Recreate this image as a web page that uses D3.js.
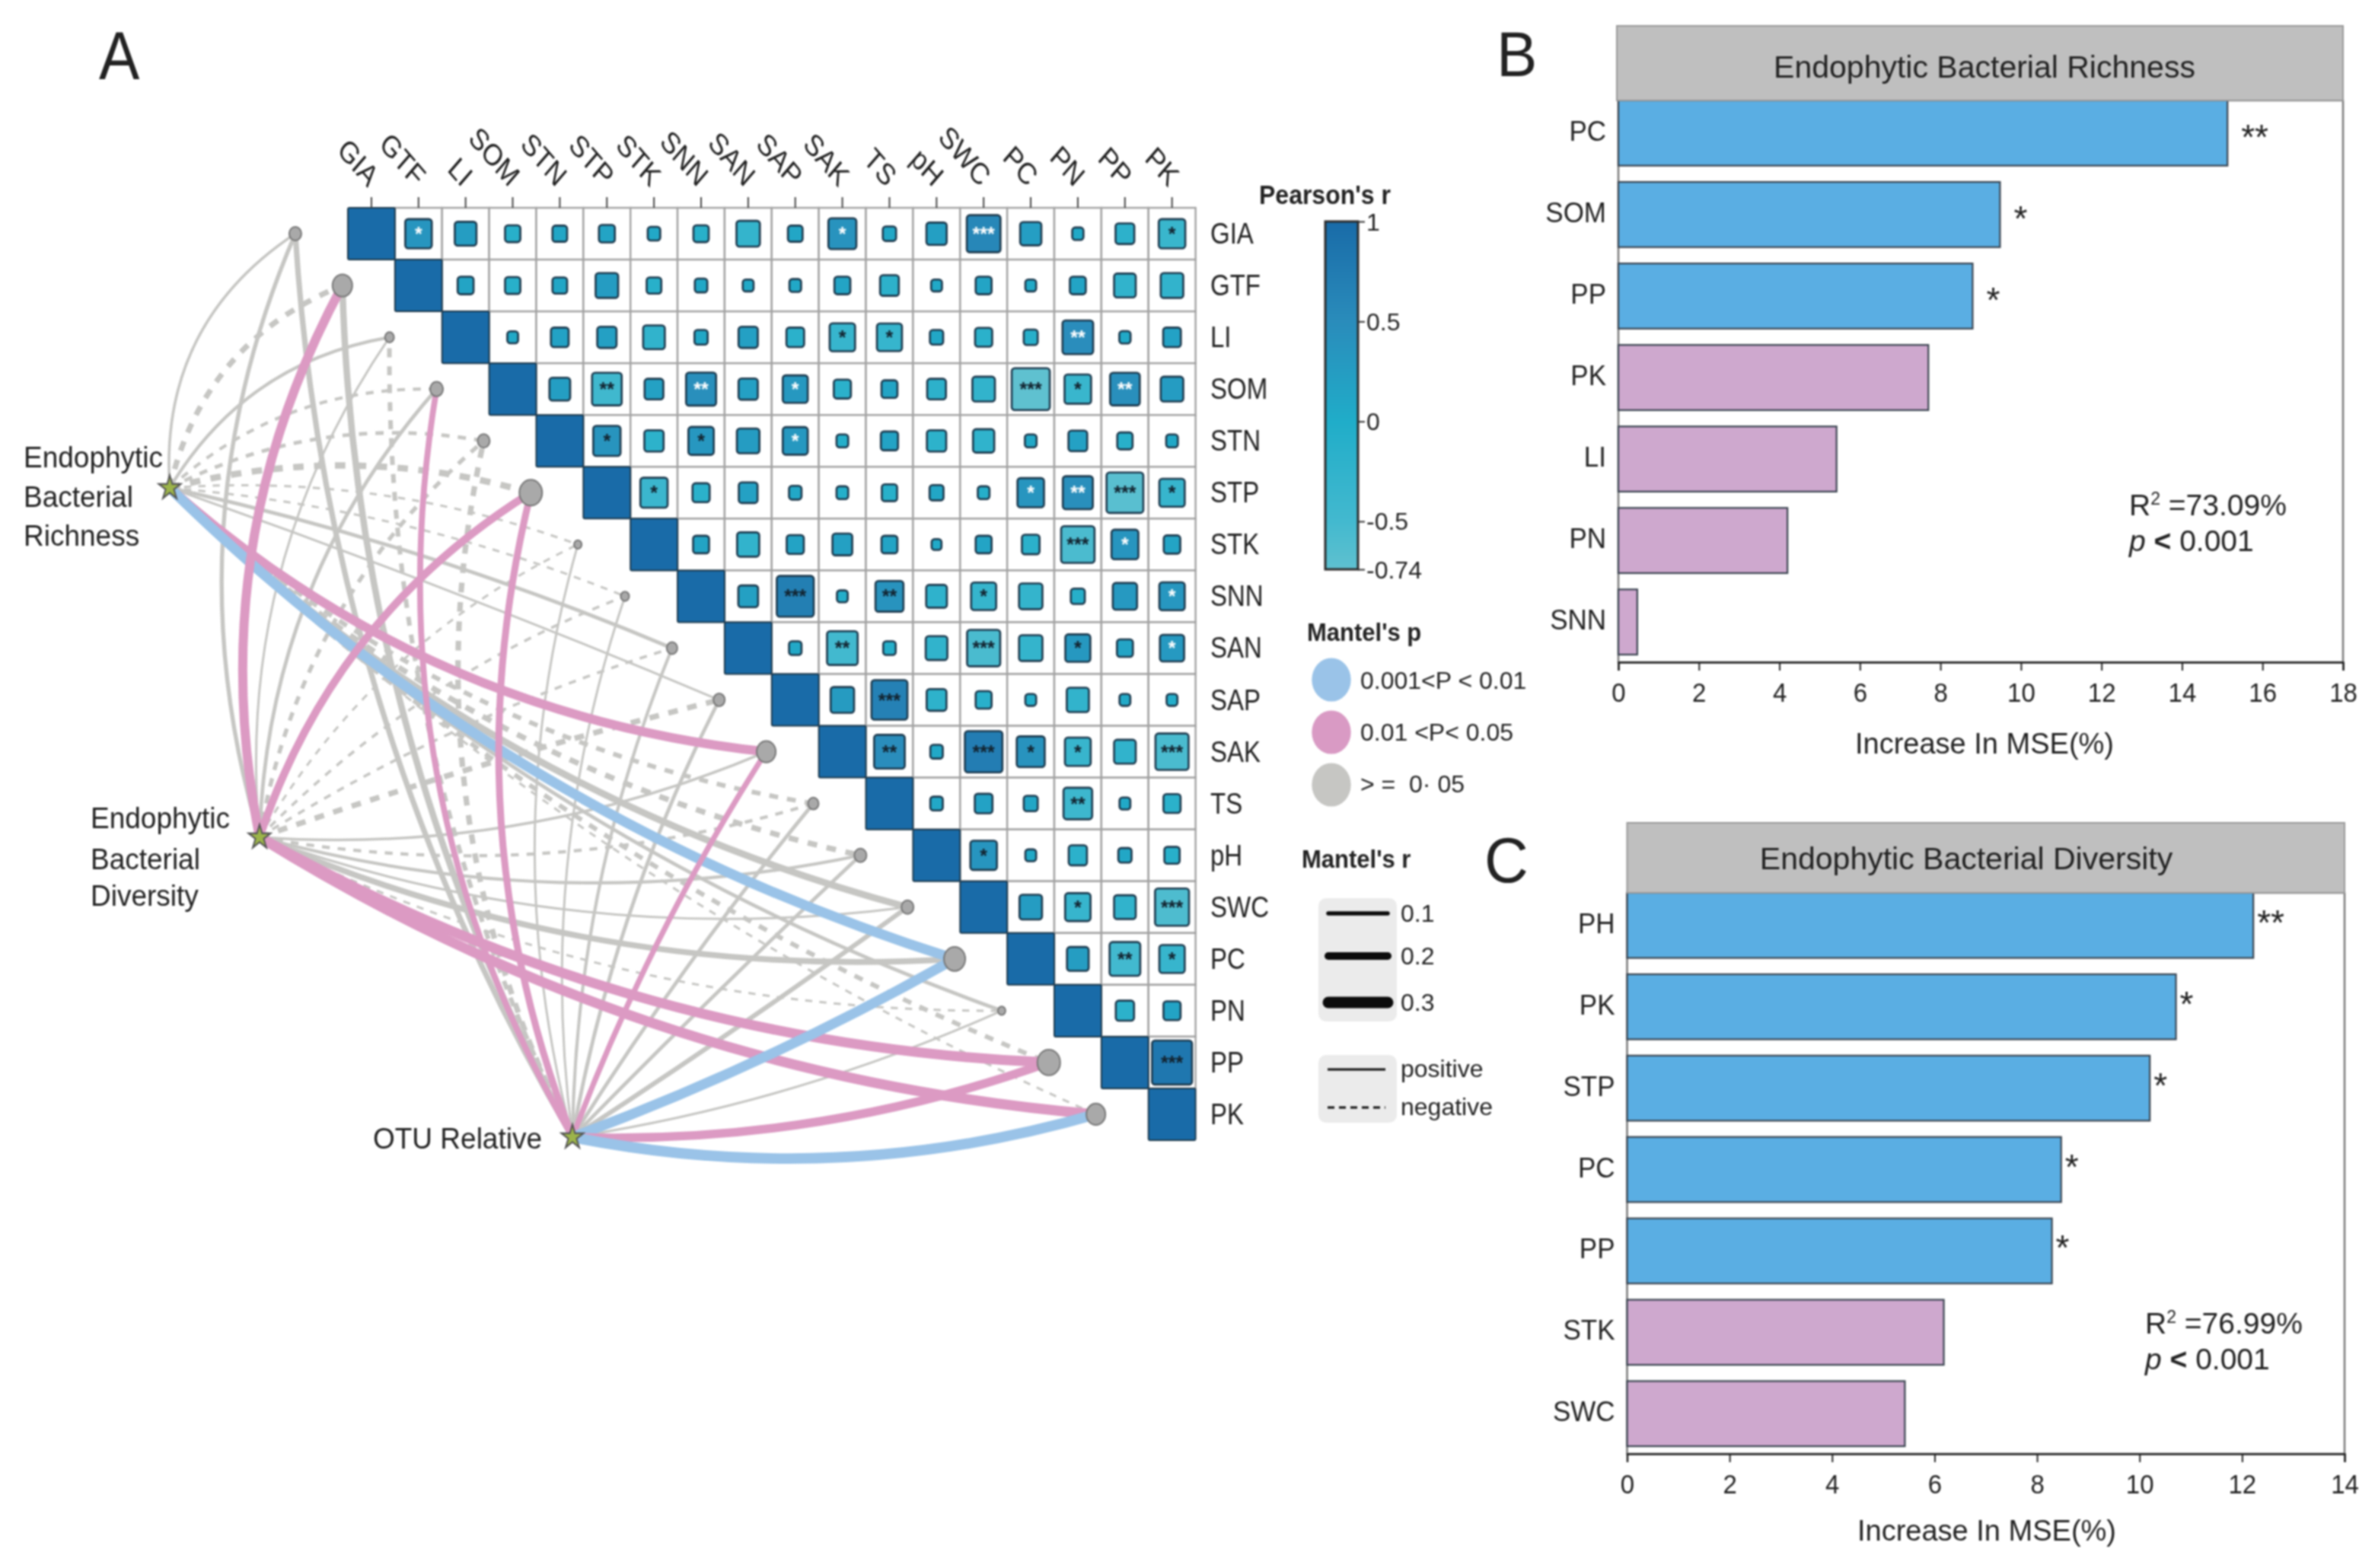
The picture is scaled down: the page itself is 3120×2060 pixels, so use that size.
<!DOCTYPE html>
<html><head><meta charset="utf-8">
<script src="https://cdn.jsdelivr.net/npm/d3@7/dist/d3.min.js"></script>
<style>
html,body{margin:0;padding:0;background:#fff}
svg{display:block;filter:blur(0.9px)}
text{font-family:"Liberation Sans",Arial,sans-serif;fill:#222}
</style></head><body>
<svg id="chart" width="3120" height="2060" viewBox="0 0 3120 2060"></svg>
<script>
const variables=["GIA","GTF","LI","SOM","STN","STP","STK","SNN","SAN","SAP","SAK","TS","pH","SWC","PC","PN","PP","PK"];
// Pearson r, upper triangle, row by row (diagonal = 1 is implied)
const corrRows=[
[.36,.24,-.12,.11,.13,.08,-.12,-.28,.11,.40,.09,.21,.58,.23,.065,-.18,-.36],
[.13,-.12,.11,.26,-.11,.08,.06,.07,.13,-.18,.06,.13,.06,.13,-.24,-.26],
[.06,.16,.19,-.24,.09,.19,-.16,-.33,-.32,.09,-.15,-.10,.48,.065,.16],
[.22,-.45,.18,.46,.19,.32,-.15,.13,-.18,-.26,-.74,-.36,.45,.26],
[.38,-.19,.33,.26,.32,-.07,.15,-.19,-.23,.07,.18,-.12,.07],
[-.38,-.15,.18,.08,-.07,-.12,.10,-.07,.36,.46,-.69,-.33],
[.13,-.25,.15,.20,.13,.05,.13,-.16,-.57,.37,.14],
[.20,.70,-.06,.40,-.22,-.32,-.28,-.10,.30,.33],
[.08,-.48,-.08,-.24,-.56,-.28,.32,.13,.30],
[.28,.66,-.20,-.13,-.06,-.25,.06,-.06],
[.48,.08,.72,.40,-.34,-.24,-.56],
[.08,.16,.10,-.42,.06,-.15],
[.36,.06,-.17,.09,-.12],
[.26,-.33,-.24,-.59],
[.24,-.48,-.33],
[-.17,.15],
[.82]];
// [row, column, number of stars, star colour: w = white, d = dark]
const sigCells=[
["GIA","GTF",1,"w"],["GIA","SAK",1,"w"],["GIA","SWC",3,"w"],["GIA","PK",1,"d"],
["LI","SAK",1,"d"],["LI","TS",1,"d"],["LI","PN",2,"w"],
["SOM","STP",2,"d"],["SOM","SNN",2,"w"],["SOM","SAP",1,"w"],["SOM","PC",3,"d"],["SOM","PN",1,"d"],["SOM","PP",2,"w"],
["STN","STP",1,"d"],["STN","SNN",1,"d"],["STN","SAP",1,"w"],
["STP","STK",1,"d"],["STP","PC",1,"w"],["STP","PN",2,"w"],["STP","PP",3,"d"],["STP","PK",1,"d"],
["STK","PN",3,"d"],["STK","PP",1,"w"],
["SNN","SAP",3,"d"],["SNN","TS",2,"d"],["SNN","SWC",1,"d"],["SNN","PK",1,"w"],
["SAN","SAK",2,"d"],["SAN","SWC",3,"d"],["SAN","PN",1,"d"],["SAN","PK",1,"w"],
["SAP","TS",3,"d"],
["SAK","TS",2,"d"],["SAK","SWC",3,"d"],["SAK","PC",1,"d"],["SAK","PN",1,"d"],["SAK","PK",3,"d"],
["TS","PN",2,"d"],["pH","SWC",1,"d"],["SWC","PN",1,"d"],["SWC","PK",3,"d"],
["PC","PP",2,"d"],["PC","PK",1,"d"],["PP","PK",3,"d"]];
// Mantel r (negative = dashed) and p class per environmental variable
const richnessR=[.06,-.12,.07,-.07,-.08,-.14,-.05,-.05,.08,.05,.20,-.10,-.12,.15,.22,.08,-.10,-.05];
const richnessP=["g","g","g","g","g","g","g","g","g","g","p","g","g","g","b","g","g","g"];
const diversityR=[.09,.20,.05,.08,-.09,.17,-.05,-.06,-.06,-.12,.06,-.07,.07,.05,.13,-.05,.22,.22];
const diversityP=["g","p","g","g","g","p","g","g","g","g","g","g","g","g","g","g","p","p"];
const otuR=[.12,.14,-.10,.13,-.12,.15,.05,.05,.07,.08,.12,.08,.08,.10,.22,.05,.19,.23];
const otuP=["g","g","g","p","g","p","g","g","g","g","p","g","g","g","b","g","p","b"];
const nodeSize=[8,13,6,8.5,8,15,5,5.5,7,7.5,12.5,7,8,8,14,5,15,12.5];
// Random forest panels
const richCats=["PC","SOM","PP","PK","LI","PN","SNN"];
const richVals=[15.13,9.48,8.8,7.7,5.42,4.2,0.47];
const richStars=["**","*","*","","","",""];
const richSig=[1,1,1,0,0,0,0];
const divCats=["PH","PK","STP","PC","PP","STK","SWC"];
const divVals=[12.22,10.71,10.2,8.47,8.29,6.18,5.42];
const divStars=["**","*","*","*","*","",""];
const divSig=[1,1,1,1,1,0,0];
const colorTicks=[1,.5,0,-.5,-.74];
const mantelSizes=[.1,.2,.3];

const svg=d3.select("#chart");
function T(g,x,y,s,size,o={}){
  return g.append("text").attr("transform",`translate(${x},${y}) scale(1,${o.sy||1})`+(o.rot?` rotate(${o.rot})`:""))
    .attr("font-size",size).attr("text-anchor",o.anchor||"start").attr("font-weight",o.bold?"bold":null)
    .attr("font-style",o.italic?"italic":null).style("fill",o.fill||null).text(s);
}
/* ---------- A: heat map ---------- */
const A=svg.append("g");
const x=d3.scaleBand(variables,[457,1570.6]);
const y=d3.scaleBand(variables,[273,1498]);
const heat=d3.scaleLinear([-.74,-.5,0,.5,1],["#5fc1d0","#43b9cf","#20adc9","#2a8cbb","#196ba8"]);
const pColor={b:"#9ac3e8",p:"#dc9ac3",g:"#c6c6c3"};
const width=d3.scaleLinear([0,.3],[0,15]);
const linkWidth=d3.scaleLinear([0,.3],[0,18]);
const cells=[];
variables.forEach((a,i)=>{
  cells.push({a,b:a,r:1});
  corrRows[i]&&corrRows[i].forEach((r,k)=>cells.push({a,b:variables[i+1+k],r}));
});
// grid
A.append("g").selectAll("rect").data(cells.filter(d=>d.a!==d.b)).join("rect")
  .attr("x",d=>x(d.b)).attr("y",d=>y(d.a)).attr("width",x.bandwidth()).attr("height",y.bandwidth())
  .attr("fill","#fff").attr("stroke","#a2a2a2").attr("stroke-width",2.4);
const f=r=>r===1?1:.94*Math.sqrt(Math.abs(r));
A.append("g").selectAll("rect").data(cells).join("rect")
  .attr("x",d=>x(d.b)+x.bandwidth()*(1-f(d.r))/2).attr("y",d=>y(d.a)+y.bandwidth()*(1-f(d.r))/2)
  .attr("width",d=>x.bandwidth()*f(d.r)).attr("height",d=>y.bandwidth()*f(d.r))
  .attr("rx",d=>d.r===1?2:4).attr("fill",d=>heat(d.r)).attr("stroke","#1d3a4e").attr("stroke-width",d=>d.r===1?2:2.6);
const cx=v=>x(v)+x.bandwidth()/2, cy=v=>y(v)+y.bandwidth()/2;
A.append("g").selectAll("text").data(sigCells).join("text")
  .attr("x",d=>cx(d[1])).attr("y",d=>cy(d[0])+9).attr("text-anchor","middle").attr("font-size",25).attr("font-weight","bold")
  .style("fill",d=>d[3]==="w"?"#fff":"#12222e").text(d=>"*".repeat(d[2]));
// axis labels
variables.forEach(v=>{
  A.append("line").attr("x1",cx(v)).attr("x2",cx(v)).attr("y1",259).attr("y2",273).attr("stroke","#444").attr("stroke-width",2);
  T(A,cx(v)-5,247,v,34,{anchor:"end",rot:45,sy:1.16});
  T(A,1590,cy(v)+13,v,33,{sy:1.16});
});
/* ---------- A: Mantel links ---------- */
const offsetX=100;
const nodeX=v=>cx(v)-offsetX, nodeY=cy;
const sources=[
 {name:"rich",x:223,y:641,r:richnessR,p:richnessP,bend:i=>i<9.5?.145*(9.5-i)/9.5:-.08+(i-10)*.005},
 {name:"div",x:341,y:1100,r:diversityR,p:diversityP,bend:i=>i<9.5?Math.min(.09,(9.5-i)*.022):-.06},
 {name:"otu",x:752,y:1494,r:otuR,p:otuP,bend:i=>i<3?.06:i<12.5?Math.min(.09,(12.5-i)*.0105):(12.5-i)*.0135}];
const links=[];
sources.forEach(s=>variables.forEach((v,i)=>links.push({s,v,i,r:s.r[i],p:s.p[i]})));
const linkPath=d=>{
  const tx=nodeX(d.v),ty=nodeY(d.v),dx=tx-d.s.x,dy=ty-d.s.y,b=d.s.bend(d.i);
  const p=d3.path();p.moveTo(d.s.x,d.s.y);
  p.quadraticCurveTo((d.s.x+tx)/2+dy*2*b,(d.s.y+ty)/2-dx*2*b,tx,ty);
  return p.toString();
};
const order=d=>d.p==="g"?0:1;
A.append("g").selectAll("path").data(links.slice().sort((a,b)=>order(a)-order(b))).join("path")
  .attr("d",linkPath).attr("fill","none").attr("stroke",d=>pColor[d.p])
  .attr("stroke-width",d=>linkWidth(Math.abs(d.r)))
  .attr("stroke-dasharray",d=>d.r<0?`${7+linkWidth(-d.r)*.8} ${7+linkWidth(-d.r)*.8}`:null);
A.append("g").selectAll("ellipse").data(variables).join("ellipse")
  .attr("cx",nodeX).attr("cy",nodeY).attr("rx",(d,i)=>nodeSize[i]).attr("ry",(d,i)=>nodeSize[i]*1.13)
  .attr("fill","#a9a9a9").attr("stroke","#777").attr("stroke-width",2);
const star=d3.symbol(d3.symbolStar,260);
A.append("g").selectAll("path").data(sources).join("path").attr("d",star)
  .attr("transform",d=>`translate(${d.x},${d.y}) scale(1,1.1)`).attr("fill","#9cb44a").attr("stroke","#555").attr("stroke-width",2);
[["Endophytic",31,614],["Bacterial",31,666],["Richness",31,717],
 ["Endophytic",119,1088],["Bacterial",119,1142],["Diversity",119,1190],["OTU Relative",490,1509]]
 .forEach(d=>T(A,d[1],d[2],d[0],37,{sy:1.04}));
T(A,130,104,"A",80,{sy:1.1});
/* ---------- legends ---------- */
T(svg,1654,268,"Pearson's r",32,{bold:true,sy:1.1});
const grad=svg.append("defs").append("linearGradient").attr("id","cb").attr("x1",0).attr("x2",0).attr("y1",1).attr("y2",0);
heat.domain().forEach(v=>grad.append("stop").attr("offset",(v+.74)/1.74).attr("stop-color",heat(v)));
svg.append("rect").attr("x",1741).attr("y",291).attr("width",43).attr("height",457).attr("fill","url(#cb)").attr("stroke","#2c2c2c").attr("stroke-width",3);
const cbY=d3.scaleLinear([-.74,1],[748,291]);
const cbAxis=svg.append("g").attr("transform","translate(1784,0)")
  .call(d3.axisRight(cbY).tickValues(colorTicks).tickSize(9).tickPadding(2).tickFormat(d=>String(d)));
cbAxis.select(".domain").remove();
cbAxis.selectAll("line").attr("stroke","#333").attr("stroke-width",2);
cbAxis.selectAll("text").attr("font-size",32).attr("font-family",null).attr("dy",null).attr("dominant-baseline","central");
T(svg,1717,842,"Mantel's p",31,{bold:true,sy:1.1});
[["0.001<P < 0.01","b",905,893],["0.01 <P< 0.05","p",973,962],["> =\u00a0\u00a00\u00b7\u00a005","g",1041,1031]].forEach(d=>{
  svg.append("ellipse").attr("cx",1749).attr("cy",d[3]).attr("rx",25.7).attr("ry",28.6).attr("fill",d[1]==="p"?"#d99ac4":d[1]==="b"?"#9ac3e8":"#c6c6c3");
  T(svg,1787,d[2],d[0],32,{});
});
T(svg,1710,1140,"Mantel's r",31,{bold:true,sy:1.1});
svg.append("rect").attr("x",1732).attr("y",1180).attr("width",103).attr("height",162).attr("rx",10).attr("fill","#ebebeb");
svg.append("rect").attr("x",1732).attr("y",1386).attr("width",103).attr("height",89).attr("rx",10).attr("fill","#ebebeb");
[1200,1256,1317].forEach((yy,i)=>{
  svg.append("line").attr("x1",1745).attr("x2",1823).attr("y1",yy).attr("y2",yy).attr("stroke","#0c0c0c")
    .attr("stroke-width",width(mantelSizes[i])*[1.1,1,1][i]).attr("stroke-linecap","round");
  T(svg,1840,yy+11,String(mantelSizes[i]),32,{});
});
[[1405,null,"positive"],[1455,"9 6","negative"]].forEach(d=>{
  svg.append("line").attr("x1",1744).attr("x2",1820).attr("y1",d[0]).attr("y2",d[0]).attr("stroke","#111").attr("stroke-width",3).attr("stroke-dasharray",d[1]);
  T(svg,1840,d[0]+10,d[2],32,{});
});
/* ---------- B / C panels ---------- */
function panel(o){
  const g=svg.append("g");
  const xs=d3.scaleLinear([0,o.max],[o.x0,o.x1]);
  const ys=d3.scaleBand(o.cats,[o.bandTop,o.axisY-10]).paddingInner(.2);
  g.append("rect").attr("x",o.x0).attr("y",o.bandTop).attr("width",o.x1-o.x0).attr("height",o.axisY-o.bandTop)
    .attr("fill","#fff").attr("stroke","#7a7a7a").attr("stroke-width",2.5);
  g.selectAll(".bar").data(o.cats).join("rect").attr("class","bar")
    .attr("x",xs(0)).attr("y",d=>ys(d)).attr("height",ys.bandwidth())
    .attr("width",(d,i)=>xs(o.vals[i])-xs(0))
    .attr("fill",(d,i)=>o.sig[i]?"#5aaee3":"#cea8ce").attr("stroke","#3a4450").attr("stroke-width",2.2);
  g.append("rect").attr("x",o.left).attr("y",o.headTop).attr("width",o.x1-o.left).attr("height",o.bandTop-o.headTop)
    .attr("fill","#bfbfbf").attr("stroke","#999").attr("stroke-width",2);
  T(g,o.titleX,o.titleY,o.title,41,{anchor:"middle"});
  const ax=g.append("g").attr("transform",`translate(0,${o.axisY})`).call(d3.axisBottom(xs).tickValues(d3.range(0,o.max+1,2)).tickSize(11).tickFormat(d=>String(d)));
  ax.select(".domain").attr("stroke","#222").attr("stroke-width",2.5);
  ax.selectAll("line").attr("stroke","#222").attr("stroke-width",2);
  ax.selectAll("text").attr("font-size",33).attr("font-family",null).attr("y",26).attr("dy","0.71em").attr("transform","scale(1,1.05)");
  o.cats.forEach((c,i)=>{
    T(g,o.x0-16,ys(c)+ys.bandwidth()/2+10,c,35,{anchor:"end",sy:1.06});
    if(o.stars[i]) T(g,xs(o.vals[i])+o.starGap,ys(c)+ys.bandwidth()/2+o.starDy,o.stars[i],46,{});
  });
  T(g,o.axisTitleX,o.axisTitleY,"Increase In MSE(%)",38,{anchor:"middle"});
  const rt=T(g,o.rx,o.ry,"",39,{});
  rt.append("tspan").text("R");
  rt.append("tspan").attr("font-size",23).attr("dy",-14).text("2");
  rt.append("tspan").attr("dy",14).text(" ="+o.r2);
  const pt=T(g,o.rx,o.ry+47,"",39,{});
  pt.append("tspan").attr("font-style","italic").text("p");
  pt.append("tspan").attr("font-weight","bold").text(" < ");
  pt.append("tspan").text("0.001");
}
panel({cats:richCats,vals:richVals,stars:richStars,sig:richSig,max:18,x0:2126,x1:3078,left:2124,headTop:34,bandTop:132,axisY:870,
  title:"Endophytic Bacterial Richness",titleX:2607,titleY:102,axisTitleX:2607,axisTitleY:990,rx:2797,ry:677,r2:"73.09%",starGap:18,starDy:21});
panel({cats:divCats,vals:divVals,stars:divStars,sig:divSig,max:14,x0:2137.5,x1:3080,left:2137.5,headTop:1081,bandTop:1173,axisY:1910,
  title:"Endophytic Bacterial Diversity",titleX:2583,titleY:1142,axisTitleX:2610,axisTitleY:2024,rx:2818,ry:1752,r2:"76.99%",starGap:5,starDy:12});
T(svg,1966,100,"B",80,{sy:1.05});
T(svg,1950,1159,"C",80,{sy:1.05});
</script></body></html>
